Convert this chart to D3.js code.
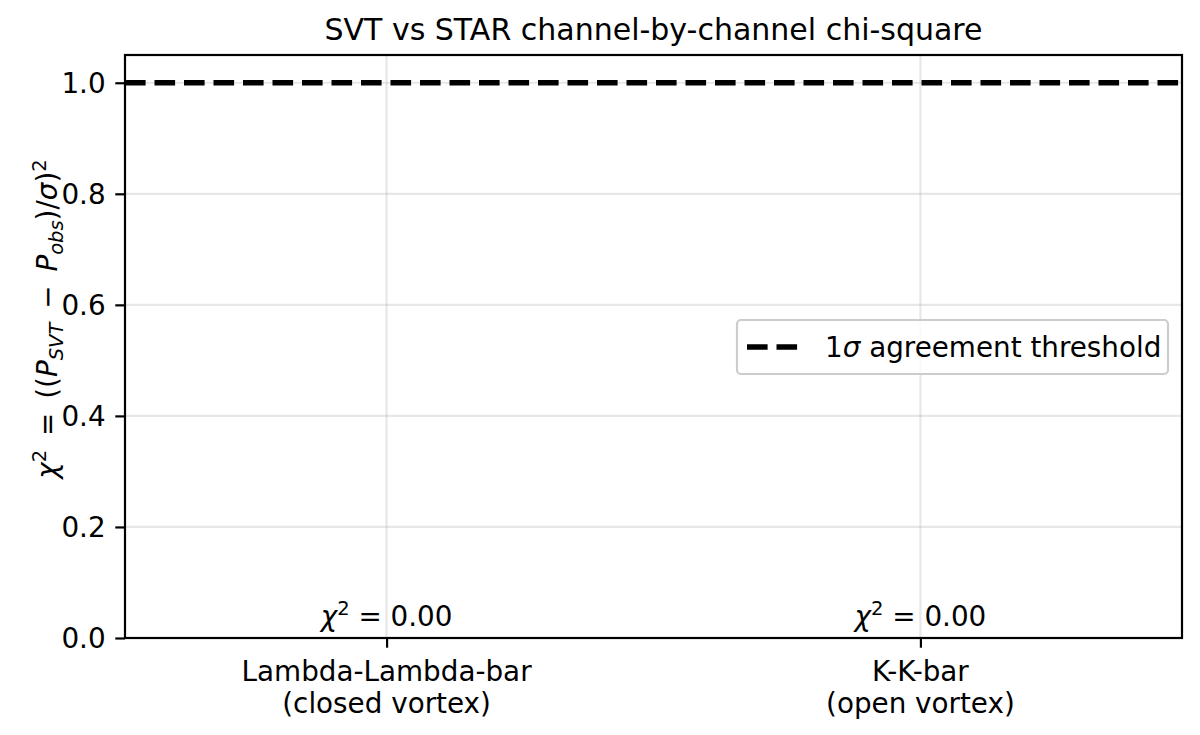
<!DOCTYPE html>
<html>
<head>
<meta charset="utf-8">
<script src="https://cdn.jsdelivr.net/npm/d3@7"></script>
<style>
  body { margin: 0; background: #fff; }
  text { font-family: "DejaVu Sans", sans-serif; fill: #000; }
</style>
</head>
<body>
<div id="chart"></div>
<script>
"use strict"

// data
const categories = ["Lambda-Lambda-bar\n(closed vortex)", "K-K-bar\n(open vortex)"];
const chiValues = [0.0, 0.0];
const threshold = 1.0;
const yTicks = [0.0, 0.2, 0.4, 0.6, 0.8, 1.0];

const W = 1200, H = 735;
const margin = {left: 125, right: 18, top: 55, bottom: 97};
const fs = 27.8, fsSmall = 19.5;

let svg = d3.select("#chart").append("svg")
    .attr("width", W)
    .attr("height", H);

let x = d3.scaleLinear()
    .domain([-0.49, 1.49])
    .range([margin.left, W - margin.right]);

let y = d3.scaleLinear()
    .domain([0, 1.05])
    .range([H - margin.bottom, margin.top]);

// grid
svg.append("g").selectAll("line")
    .data(categories)
    .enter().append("line")
    .attr("x1", (d, i) => x(i)).attr("x2", (d, i) => x(i))
    .attr("y1", y(0)).attr("y2", y(1.05))
    .style("stroke", "#b0b0b0").style("stroke-opacity", 0.3).style("stroke-width", "2.2px");

svg.append("g").selectAll("line")
    .data(yTicks)
    .enter().append("line")
    .attr("x1", x(-0.49)).attr("x2", x(1.49))
    .attr("y1", d => y(d)).attr("y2", d => y(d))
    .style("stroke", "#b0b0b0").style("stroke-opacity", 0.3).style("stroke-width", "2.2px");

// bars (zero height here)
svg.append("g").selectAll("rect")
    .data(chiValues)
    .enter().append("rect")
    .attr("x", (d, i) => x(i - 0.4))
    .attr("width", x(0.4) - x(-0.4))
    .attr("y", d => y(d))
    .attr("height", d => y(0) - y(d))
    .style("fill", "#1f77b4");

// threshold line
svg.append("line")
    .attr("x1", x(-0.49)).attr("x2", x(1.49))
    .attr("y1", y(threshold)).attr("y2", y(threshold))
    .style("stroke", "black").style("stroke-width", "5.6px")
    .style("stroke-dasharray", "20.6,8.9");

// annotations
chiValues.forEach(function(v, i) {
    let t = svg.append("text")
        .attr("x", x(i))
        .attr("y", y(v) - 12)
        .attr("text-anchor", "middle")
        .style("font-size", fs + "px");
    t.append("tspan").style("font-style", "italic").text("χ");
    t.append("tspan").attr("dy", -11).style("font-size", fsSmall + "px").text("2");
    t.append("tspan").attr("dy", 11).text(" = " + v.toFixed(2));
});

// axes
let yAxis = d3.axisLeft(y).tickValues(yTicks).tickFormat(d3.format(".1f"))
    .tickSizeOuter(0).tickSize(9.7).tickPadding(9.7);
let gy = svg.append("g").attr("transform", `translate(${margin.left},0)`).call(yAxis);
gy.selectAll("text").style("font-size", fs + "px").attr("dy", "0.35em");
gy.selectAll("line").style("stroke-width", "2.2px");
gy.select(".domain").remove();

let xAxis = d3.axisBottom(x).tickValues([0, 1]).tickFormat("").tickSizeOuter(0).tickSize(9.7);
let gx = svg.append("g").attr("transform", `translate(0,${H - margin.bottom})`).call(xAxis);
gx.selectAll("line").style("stroke-width", "2.2px");
gx.select(".domain").remove();

categories.forEach(function(c, i) {
    let t = svg.append("text")
        .attr("text-anchor", "middle")
        .style("font-size", fs + "px");
    c.split("\n").forEach(function(l, k) {
        t.append("tspan").attr("x", x(i)).attr("y", 681 + k * 32).text(l);
    });
});

// frame
svg.append("rect")
    .attr("x", x(-0.49)).attr("y", y(1.05))
    .attr("width", x(1.49) - x(-0.49)).attr("height", y(0) - y(1.05))
    .style("fill", "none").style("stroke", "black").style("stroke-width", "2.2px");

// title
svg.append("text")
    .attr("x", (x(-0.49) + x(1.49)) / 2)
    .attr("y", 40)
    .attr("text-anchor", "middle")
    .style("font-size", "30px")
    .text("SVT vs STAR channel-by-channel chi-square");

// y label
let yl = svg.append("text")
    .attr("transform", "translate(57,319) rotate(-90)")
    .attr("text-anchor", "middle")
    .style("font-size", fs + "px");
yl.append("tspan").style("font-style", "italic").text("χ");
yl.append("tspan").attr("dy", -11).style("font-size", fsSmall + "px").text("2");
yl.append("tspan").attr("dy", 11).text("\u2002=\u2002((");
yl.append("tspan").style("font-style", "italic").text("P");
yl.append("tspan").attr("dy", 6).style("font-size", fsSmall + "px").style("font-style", "italic").text("SVT");
yl.append("tspan").attr("dy", -6).text("\u2002−\u2002");
yl.append("tspan").style("font-style", "italic").text("P");
yl.append("tspan").attr("dy", 6).style("font-size", fsSmall + "px").style("font-style", "italic").text("obs");
yl.append("tspan").attr("dy", -6).text(")/");
yl.append("tspan").style("font-style", "italic").text("σ");
yl.append("tspan").text(")");
yl.append("tspan").attr("dy", -11).style("font-size", fsSmall + "px").text("2");

// legend
let lg = svg.append("g").attr("transform", "translate(737,320)");
lg.append("rect")
    .attr("width", 431).attr("height", 54).attr("rx", 4)
    .style("fill", "white").style("fill-opacity", 0.8)
    .style("stroke", "#cccccc").style("stroke-width", "2.2px");
lg.append("line")
    .attr("x1", 10).attr("x2", 65).attr("y1", 27).attr("y2", 27)
    .style("stroke", "black").style("stroke-width", "5.6px")
    .style("stroke-dasharray", "20.6,8.9");
let lt = lg.append("text").attr("x", 88).attr("y", 37).style("font-size", fs + "px");
lt.append("tspan").text("1");
lt.append("tspan").style("font-style", "italic").text("σ");
lt.append("tspan").text(" agreement threshold");
</script>
</body>
</html>
